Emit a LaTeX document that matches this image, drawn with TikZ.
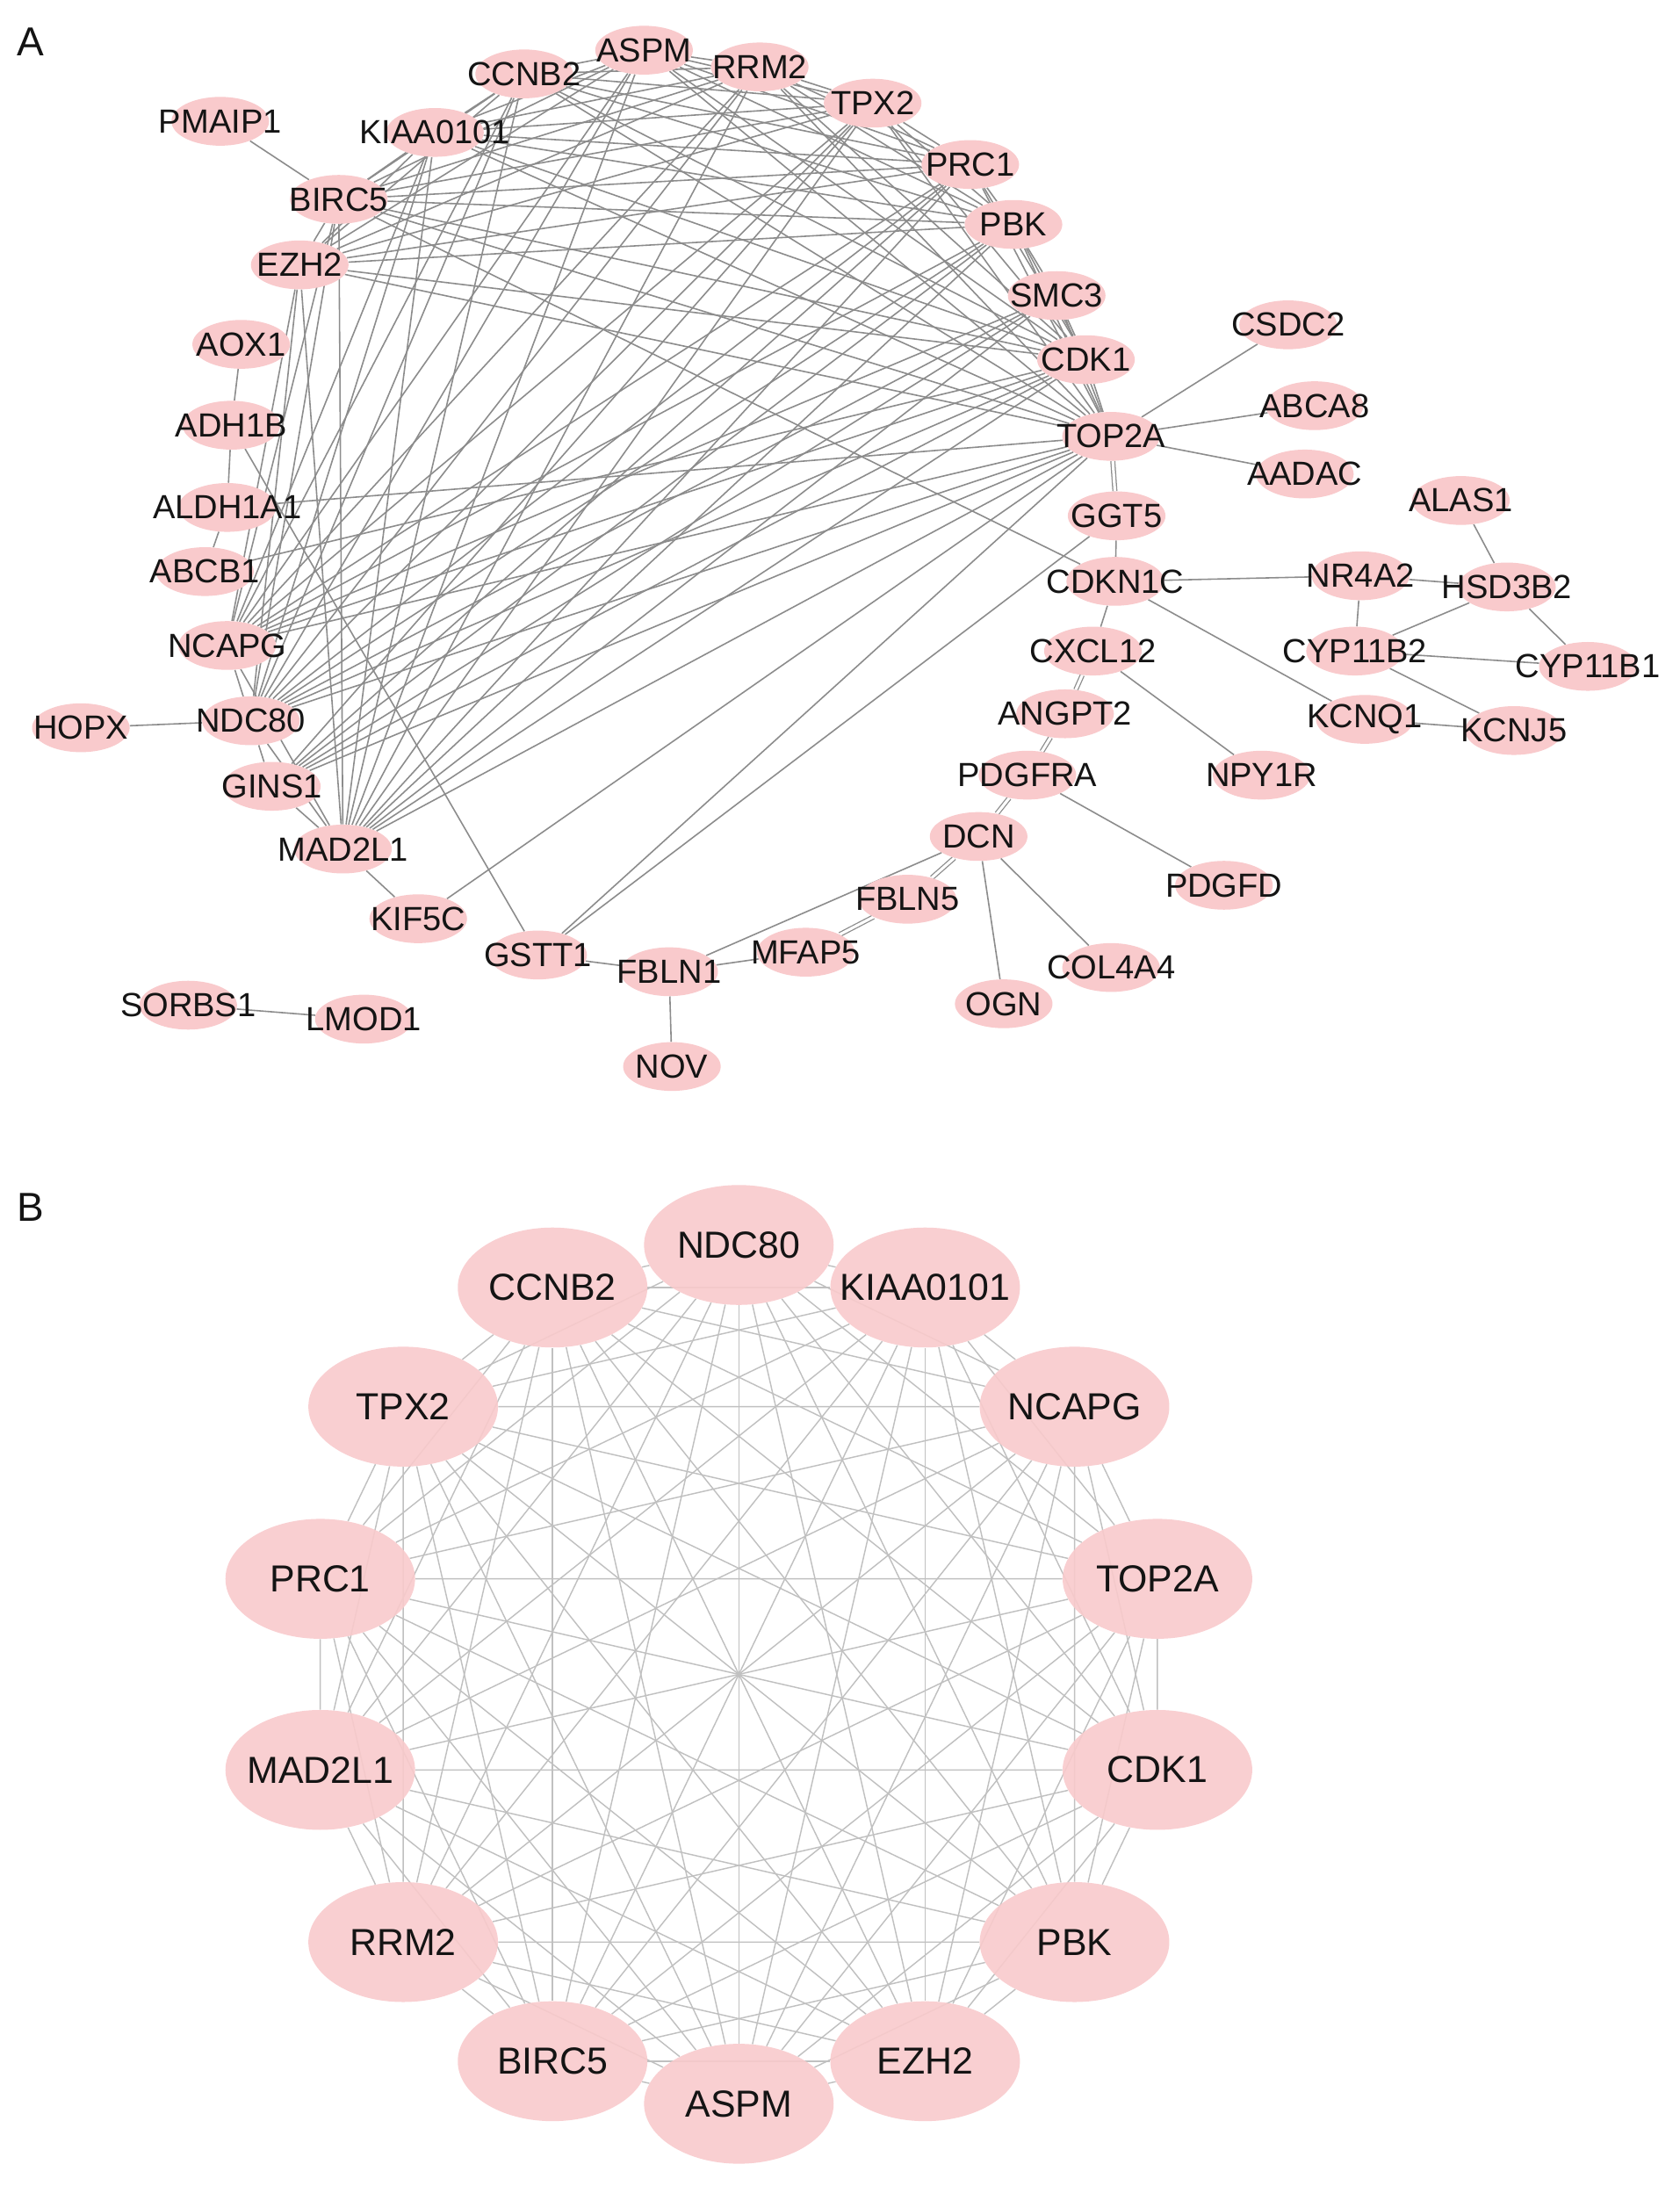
\documentclass[tikz,border=0pt]{standalone}
\usepackage{fontspec}
\setmainfont{Liberation Sans}
\usetikzlibrary{shapes.geometric}
\pgfdeclarelayer{bg}
\pgfsetlayers{bg,main}
\definecolor{npink}{RGB}{249,202,204}
\definecolor{edgeA}{RGB}{140,140,140}
\definecolor{edgeB}{RGB}{192,192,192}
\definecolor{txt}{RGB}{20,20,20}
\newcommand{\zw}[1]{\makebox[0pt]{#1}}
\begin{document}
\begin{tikzpicture}[x=1pt,y=-1pt,
  ga/.style={ellipse, fill=npink, minimum width=70pt, minimum height=35pt, inner sep=0pt, text=txt, font=\fontsize{24}{24}\selectfont},
  gb/.style={ellipse, fill=npink, fill opacity=0.9, text opacity=1, minimum width=136pt, minimum height=86pt, inner sep=0pt, text=txt, font=\fontsize{27}{27}\selectfont},
  ea/.style={draw=edgeA, line width=1pt},
  eb/.style={draw=edgeB, line width=0.9pt},
  dbl/.style={draw=edgeA, line width=0.8pt, double=white, double distance=2pt},
  lab/.style={font=\fontsize{29}{29}\selectfont, inner sep=0pt, text=txt}]
\useasboundingbox (0,0) rectangle (1205,1568);

% panel labels
\node[lab] (labA) at (22,30) {A};
\node[lab] (labB) at (22,866) {B};

% ---------------- panel A nodes ----------------
\node[ga] (pmaip1) at (158,87) {\zw{PMAIP1}};
\node[ga] (kiaa) at (312,95) {\zw{KIAA0101}};
\node[ga] (ccnb2) at (376,53) {\zw{CCNB2}};
\node[ga] (aspm) at (462,36) {\zw{ASPM}};
\node[ga] (rrm2) at (545,48) {\zw{RRM2}};
\node[ga] (tpx2) at (626,74) {\zw{TPX2}};
\node[ga] (prc1) at (696,118) {\zw{PRC1}};
\node[ga] (pbk) at (727,161) {\zw{PBK}};
\node[ga] (smc3) at (758,212) {\zw{SMC3}};
\node[ga] (cdk1) at (779,258) {\zw{CDK1}};
\node[ga] (top2a) at (797,313) {\zw{TOP2A}};
\node[ga] (csdc2) at (924,233) {\zw{CSDC2}};
\node[ga] (abca8) at (943,291) {\zw{ABCA8}};
\node[ga] (aadac) at (936,340) {\zw{AADAC}};
\node[ga] (ggt5) at (801,370) {\zw{GGT5}};
\node[ga] (cdkn1c) at (800,417) {\zw{CDKN1C}};
\node[ga] (alas1) at (1048,359) {\zw{ALAS1}};
\node[ga] (nr4a2) at (976,413) {\zw{NR4A2}};
\node[ga] (hsd3b2) at (1081,421) {\zw{HSD3B2}};
\node[ga] (cyp11b2) at (972,467) {\zw{CYP11B2}};
\node[ga] (cyp11b1) at (1139,478) {\zw{CYP11B1}};
\node[ga] (cxcl12) at (784,467) {\zw{CXCL12}};
\node[ga] (kcnq1) at (979,516) {\zw{KCNQ1}};
\node[ga] (kcnj5) at (1086,524) {\zw{KCNJ5}};
\node[ga] (angpt2) at (764,512) {\zw{ANGPT2}};
\node[ga] (npy1r) at (905,556) {\zw{NPY1R}};
\node[ga] (pdgfra) at (737,556) {\zw{PDGFRA}};
\node[ga] (dcn) at (702,600) {\zw{DCN}};
\node[ga] (pdgfd) at (878,635) {\zw{PDGFD}};
\node[ga] (fbln5) at (651,645) {\zw{FBLN5}};
\node[ga] (mfap5) at (578,683) {\zw{MFAP5}};
\node[ga] (col4a4) at (797,694) {\zw{COL4A4}};
\node[ga] (ogn) at (720,720) {\zw{OGN}};
\node[ga] (fbln1) at (480,697) {\zw{FBLN1}};
\node[ga] (nov) at (482,765) {\zw{NOV}};
\node[ga] (gstt1) at (386,685) {\zw{GSTT1}};
\node[ga] (kif5c) at (300,659) {\zw{KIF5C}};
\node[ga] (mad2l1) at (246,609) {\zw{MAD2L1}};
\node[ga] (gins1) at (195,564) {\zw{GINS1}};
\node[ga] (ndc80) at (180,517) {\zw{NDC80}};
\node[ga] (hopx) at (58,522) {\zw{HOPX}};
\node[ga] (ncapg) at (163,463) {\zw{NCAPG}};
\node[ga] (abcb1) at (147,410) {\zw{ABCB1}};
\node[ga] (aldh1a1) at (163,364) {\zw{ALDH1A1}};
\node[ga] (adh1b) at (166,305) {\zw{ADH1B}};
\node[ga] (aox1) at (173,247) {\zw{AOX1}};
\node[ga] (ezh2) at (215,190) {\zw{EZH2}};
\node[ga] (birc5) at (243,143) {\zw{BIRC5}};
\node[ga] (sorbs1) at (135,721) {\zw{SORBS1}};
\node[ga] (lmod1) at (261,731) {\zw{LMOD1}};

% ---------------- panel B nodes ----------------
\foreach \n [count=\k from 0] in {NDC80,KIAA0101,NCAPG,TOP2A,CDK1,PBK,EZH2,ASPM,BIRC5,RRM2,MAD2L1,PRC1,TPX2,CCNB2}{
  \node[gb] (b\k) at ({530+308*cos(90-\k*360/14)},{1201-308*sin(90-\k*360/14)}) {\zw{\n}};
}

\begin{pgfonlayer}{bg}
\fill[white] (0,0) rectangle (1205,1568);
% hub clique in A
\foreach \u [count=\i] in {ccnb2,aspm,rrm2,tpx2,prc1,pbk,cdk1,top2a,kiaa,birc5,ezh2,ncapg,ndc80,mad2l1}{
  \foreach \v [count=\j] in {ccnb2,aspm,rrm2,tpx2,prc1,pbk,cdk1,top2a,kiaa,birc5,ezh2,ncapg,ndc80,mad2l1}{
    \ifnum\j>\i \draw[ea] (\u) -- (\v); \fi
  }
}
% other edges in A
\foreach \u/\v in {pmaip1/birc5, hopx/ndc80, mad2l1/kif5c, kif5c/top2a,
  aox1/adh1b, adh1b/aldh1a1, aldh1a1/abcb1, adh1b/gstt1, aldh1a1/top2a, abcb1/cdk1,
  birc5/cdkn1c, gstt1/top2a, gstt1/ggt5, gstt1/fbln1,
  top2a/csdc2, top2a/abca8, top2a/aadac, ggt5/cdkn1c,
  cdkn1c/nr4a2, cdkn1c/kcnq1, cdkn1c/cxcl12,
  nr4a2/hsd3b2, nr4a2/cyp11b2, alas1/hsd3b2, hsd3b2/cyp11b2, hsd3b2/cyp11b1,
  cyp11b2/cyp11b1, cyp11b2/kcnj5, kcnq1/kcnj5, cxcl12/npy1r,
  pdgfra/pdgfd, dcn/ogn, dcn/col4a4, dcn/fbln1, fbln1/mfap5, fbln1/nov,
  sorbs1/lmod1,
  smc3/cdk1, smc3/top2a, smc3/ncapg, smc3/ndc80, smc3/mad2l1, smc3/gins1, smc3/pbk,
  gins1/mad2l1, gins1/ndc80, gins1/top2a, gins1/cdk1, gins1/pbk, gins1/prc1, gins1/tpx2}
  \draw[ea] (\u) -- (\v);
\foreach \u/\v in {top2a/ggt5, cxcl12/angpt2, angpt2/pdgfra, pdgfra/dcn, dcn/fbln5, fbln5/mfap5}
  \draw[dbl] (\u) -- (\v);
% complete graph in B
\foreach \i in {0,...,12}{
  \pgfmathtruncatemacro\s{\i+1}
  \foreach \j in {\s,...,13}{ \draw[eb] (b\i) -- (b\j); }
}
\end{pgfonlayer}
\end{tikzpicture}
\end{document}
